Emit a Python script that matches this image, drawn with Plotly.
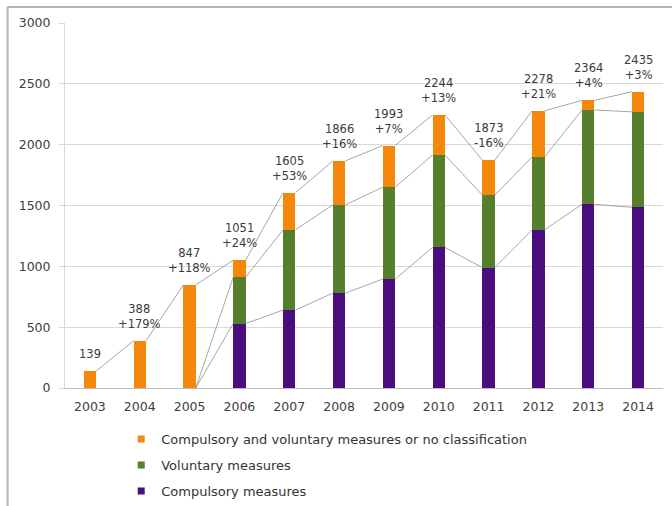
import plotly.graph_objects as go

# Measures per year, stacked by classification
years = [2003, 2004, 2005, 2006, 2007, 2008, 2009, 2010, 2011, 2012, 2013, 2014]
totals = [139, 388, 847, 1051, 1605, 1866, 1993, 2244, 1873, 2278, 2364, 2435]
compulsory = [0, 0, 0, 530, 640, 780, 895, 1155, 990, 1300, 1510, 1485]
voluntary = [0, 0, 0, 380, 660, 725, 755, 760, 595, 600, 775, 785]
growth = ["", "+179%", "+118%", "+24%", "+53%", "+16%", "+7%", "+13%", "-16%", "+21%", "+4%", "+3%"]

other = [t - c - v for t, c, v in zip(totals, compulsory, voluntary)]

names = [
    "Compulsory measures",
    "Voluntary measures",
    "Compulsory and voluntary measures or no classification",
]
colors = ["#4B0C7E", "#557F2C", "#F5870A"]
series = [compulsory, voluntary, other]

BAR_W = 0.25
FONT = "DejaVu Sans, Arial"

fig = go.Figure()

for name, color, vals in zip(names, colors, series):
    fig.add_trace(go.Bar(
        x=years, y=vals, name=name, width=BAR_W,
        marker=dict(color=color, line=dict(width=0)),
        showlegend=False, hoverinfo="skip",
    ))

# Series lines joining the top of each stack level between neighbouring bars
cum = [0] * len(years)
for vals in series:
    cum = [a + b for a, b in zip(cum, vals)]
    lx, ly = [], []
    for i in range(len(years) - 1):
        if cum[i] == 0 and cum[i + 1] == 0:
            continue
        lx += [years[i] + BAR_W / 2, years[i + 1] - BAR_W / 2, None]
        ly += [cum[i], cum[i + 1], None]
    fig.add_trace(go.Scatter(
        x=lx, y=ly, mode="lines", line=dict(color="#8f8f8f", width=0.8),
        showlegend=False, hoverinfo="skip",
    ))

# Legend entries (small square keys), top level of the stack listed first
for i, (name, color) in enumerate(zip(names[::-1], colors[::-1])):
    fig.add_trace(go.Scatter(
        x=[None], y=[None], mode="markers", name=name,
        marker=dict(symbol="square", size=7, color=color),
        legendgroup=f"g{i}", showlegend=True,
    ))

# Total and year-on-year change above each bar
for yr, tot, g in zip(years, totals, growth):
    txt = f"{tot}" if not g else f"{tot}<br>{g}"
    fig.add_annotation(
        x=yr, y=tot, text=txt, showarrow=False, yanchor="bottom",
        yshift=8, font=dict(family=FONT, size=11.5, color="#3a3a3a"),
        align="center",
    )

# Outer frame
fig.add_shape(type="line", xref="paper", yref="paper", x0=-0.096, x1=1.2, y0=1.044, y1=1.044,
              line=dict(color="#b5b5b5", width=2))
fig.add_shape(type="line", xref="paper", yref="paper", x0=-0.096, x1=-0.096, y0=1.044, y1=-0.5,
              line=dict(color="#b5b5b5", width=2))

fig.update_layout(
    width=672, height=506,
    margin=dict(l=65, r=9, t=23, b=118, autoexpand=False),
    paper_bgcolor="white", plot_bgcolor="white",
    barmode="stack",
    font=dict(family=FONT, size=12, color="#404040"),
    xaxis=dict(
        range=[years[0] - 0.5, years[-1] + 0.5],
        tickmode="array", tickvals=years, ticktext=[str(y) for y in years],
        showgrid=False, zeroline=False,
        showline=True, linecolor="#bfbfbf", linewidth=1,
        ticks="", ticklabelstandoff=7, tickfont=dict(family=FONT, size=12.5, color="#404040"),
    ),
    yaxis=dict(
        range=[0, 3000], tickmode="array", tickvals=[0, 500, 1000, 1500, 2000, 2500, 3000],
        showgrid=True, gridcolor="#d9d9d9", gridwidth=1,
        zeroline=False, showline=True, linecolor="#d9d9d9", linewidth=1,
        ticks="outside", ticklen=5, tickcolor="#d9d9d9", ticklabelstandoff=6,
        tickfont=dict(family=FONT, size=12.5, color="#404040"),
    ),
    legend=dict(
        x=0.094, y=-0.099, xanchor="left", yanchor="top",
        orientation="v", traceorder="grouped", tracegroupgap=6,
        font=dict(family=FONT, size=13, color="#333333"),
        bgcolor="rgba(0,0,0,0)",
    ),
)

fig.write_html("out.html")
